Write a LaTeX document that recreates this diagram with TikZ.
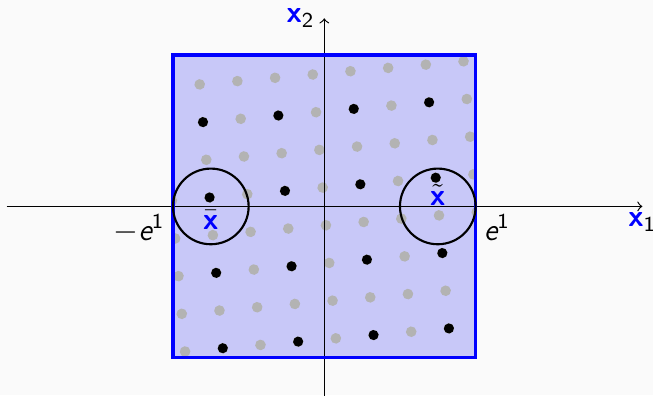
\documentclass[tikz,border=0pt]{standalone}
\usepackage{amsmath}
\definecolor{bgc}{RGB}{250,250,250}
\definecolor{boxfill}{RGB}{200,200,248}
\definecolor{dotgray}{RGB}{179,179,179}
\newcommand{\myvx}{\text{\sffamily\bfseries\color{blue}x}}
\begin{document}
\begin{tikzpicture}[x=2cm,y=2cm,
  every node/.style={font=\fontsize{11.5}{14}\selectfont},
  axisline/.style={->,line width=0.45pt},
  graydot/.style={fill=dotgray},
  blackdot/.style={fill=black},
  boxborder/.style={draw=blue,line width=1.2pt},
  ballc/.style={circle,draw=black,line width=0.8pt,minimum size=1cm,inner sep=0pt}]
\fill[bgc] (-2.143,-1.2465) rectangle (2.172,1.364);
\useasboundingbox (-2.143,-1.2465) rectangle (2.172,1.364);
% square
\fill[boxfill] (-1,-1) rectangle (1,1);
\begin{scope}
  \clip (-1,-1) rectangle (1,1);
  \begin{scope}[rotate=5]
    \foreach \k in {-6,...,6} {
      \foreach \m in {-6,...,5} {
        \fill[graydot] (0.25*\k,0.125+0.25*\m) circle[radius=2pt];
      }
    }
    \foreach \k in {-5,-3,...,5} {
      \foreach \m in {-6,-4,...,4} {
        \fill[blackdot] (0.25*\k,0.125+0.25*\m) circle[radius=1.9pt];
      }
    }
  \end{scope}
\end{scope}
% axes
\coordinate (xs) at (-2.1,0);
\coordinate (xe) at (2.102,0);
\coordinate (ys) at (0,-1.3);
\coordinate (ye) at (0,1.243);
\draw[axisline] (xs) -- (xe);
\draw[axisline] (ys) -- (ye);
\node[below,inner sep=2pt] (lx1) at (xe) {$\myvx_{\mathsf{1}}$};
\node[left,inner sep=3.5pt] (lx2) at (ye) {$\myvx_{\mathsf{2}}$};
% box border
\draw[boxborder] (-1,-1) rectangle (1,1);
% balls
\node[ballc] (bl) at (-0.75,0) {};
\node[ballc] (br) at (0.75,0) {};
\node[below,inner sep=1.5pt] (lbar) at (bl.center) {$\bar{\myvx}$};
\node[anchor=base,inner sep=0pt,yshift=0.3pt] (ltil) at (br.center) {$\tilde{\myvx}$};
% e labels
\coordinate (em) at (-1,0);
\coordinate (ep) at (1,0);
\node[below left,inner sep=3pt] (lem) at (em) {$-\textsf{\itshape e}^{\mathsf{1}}$};
\node[below right,inner sep=3pt] (lep) at (ep) {$\textsf{\itshape e}^{\mathsf{1}}$};
\end{tikzpicture}
\end{document}
